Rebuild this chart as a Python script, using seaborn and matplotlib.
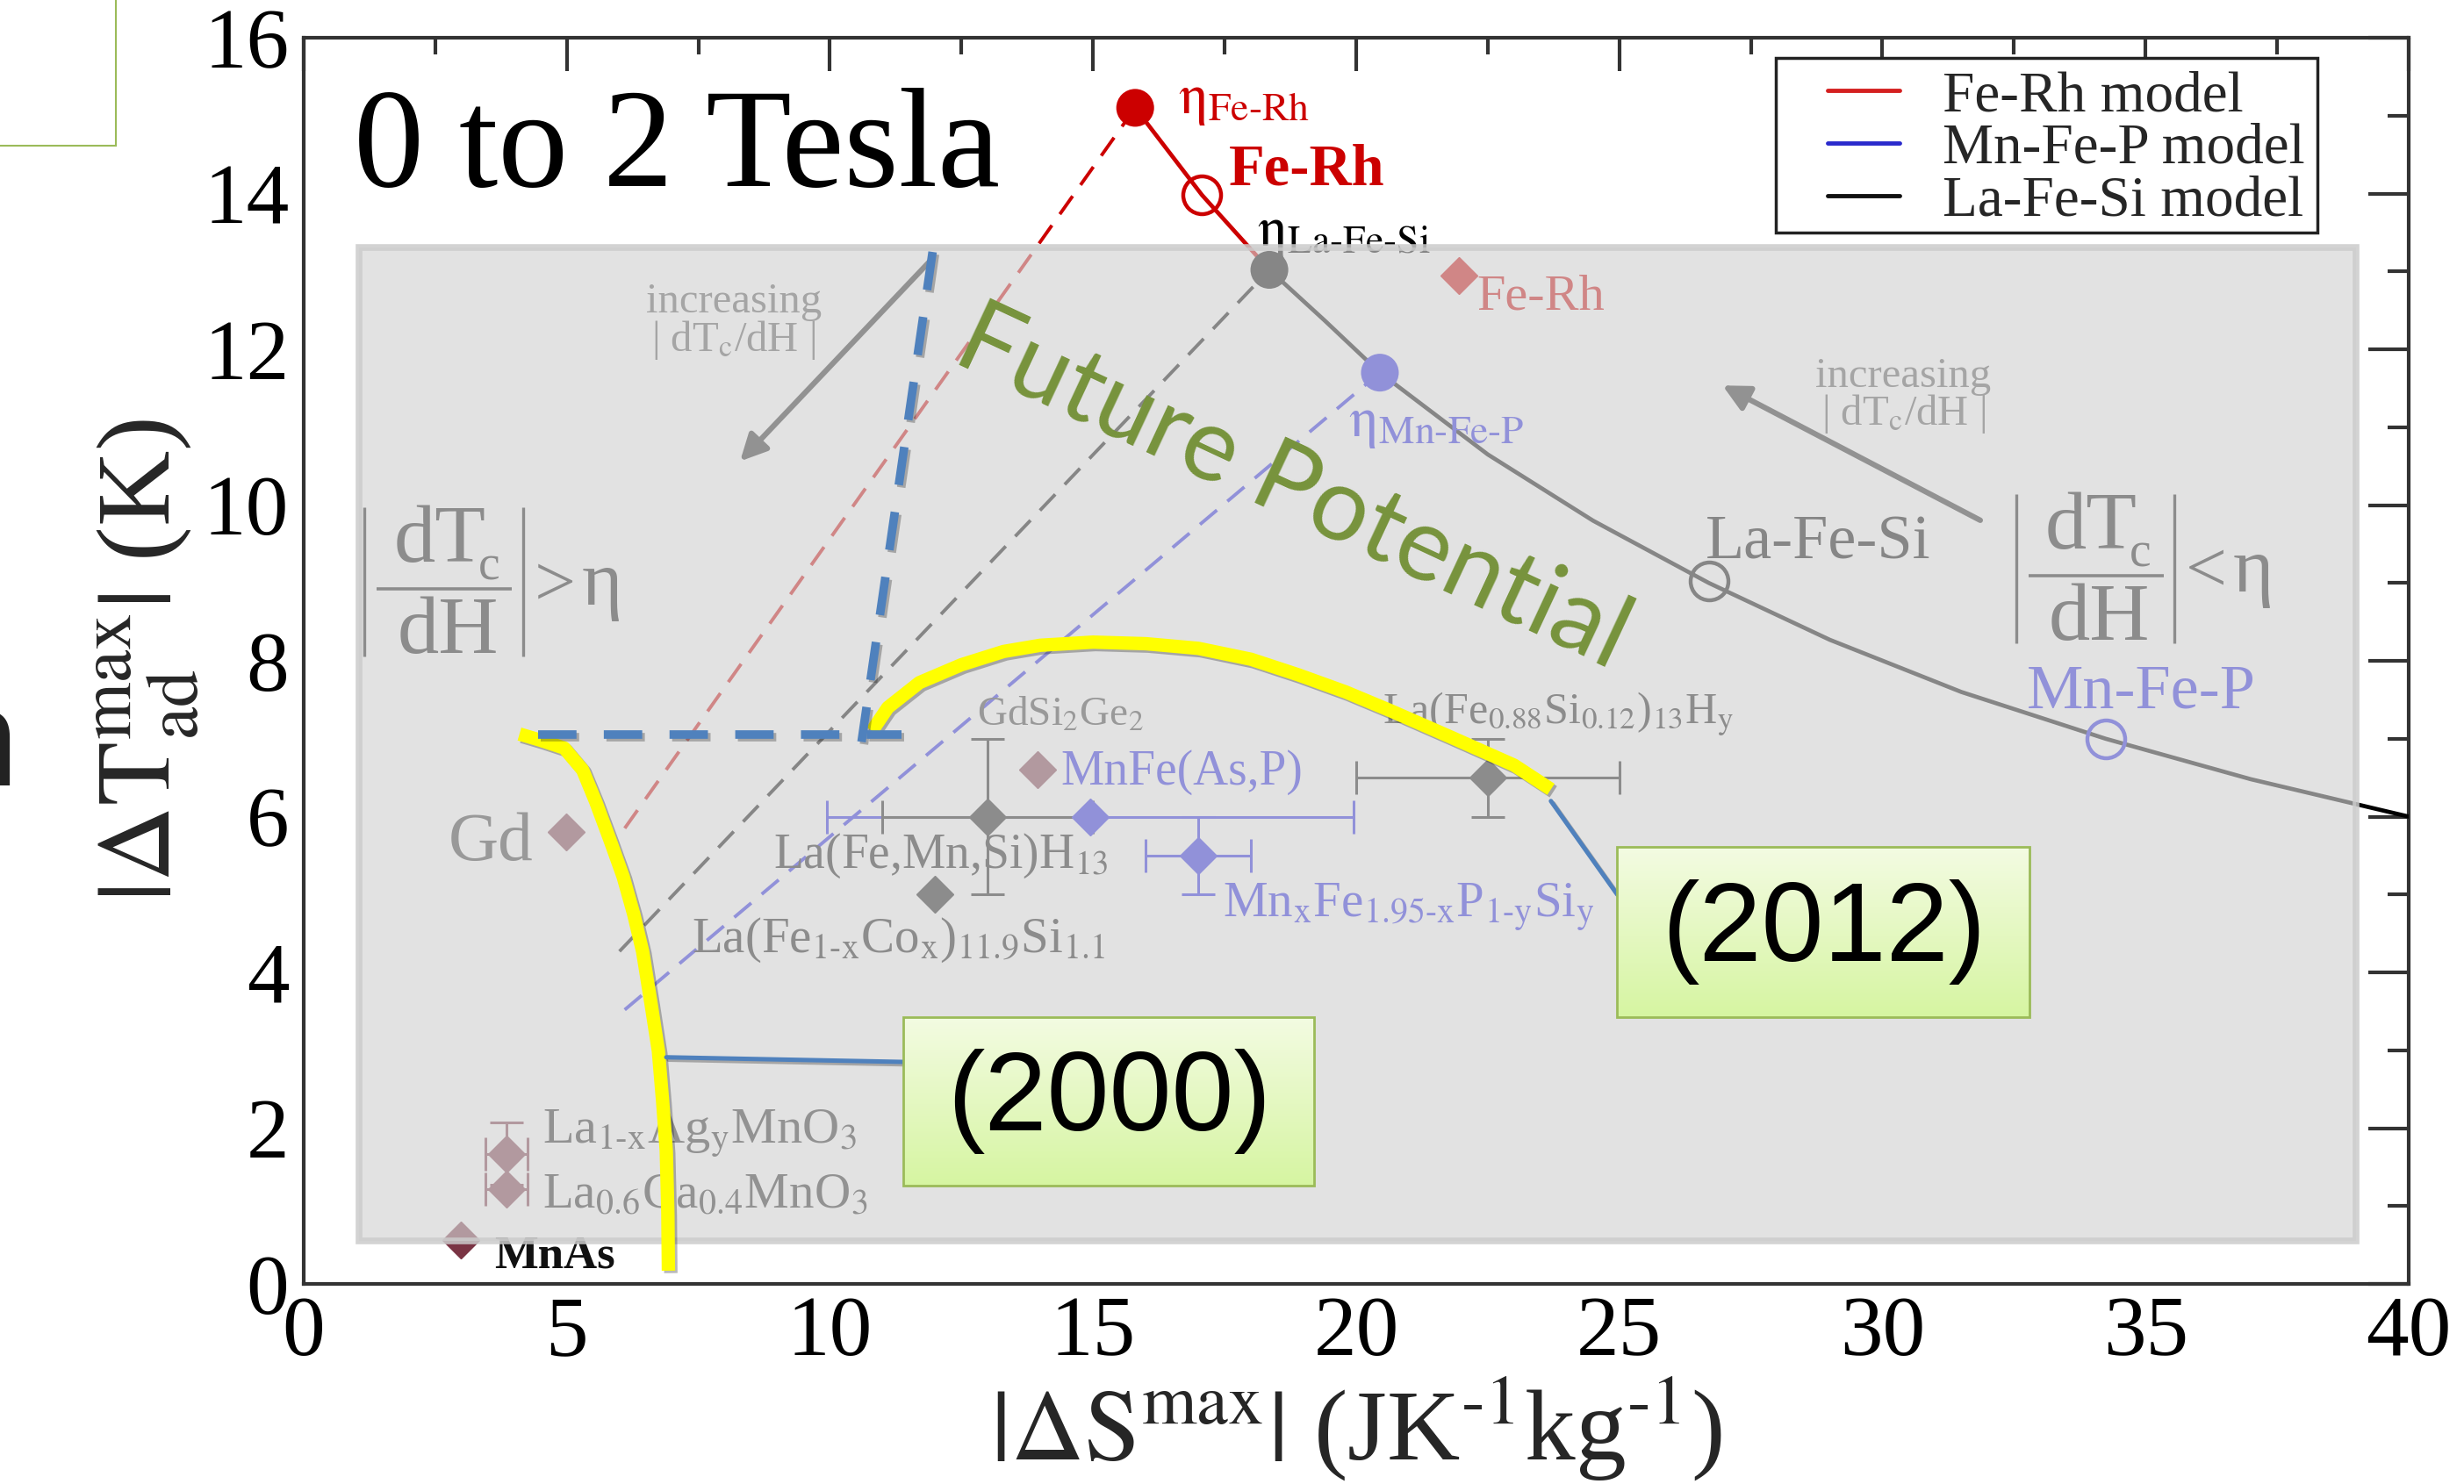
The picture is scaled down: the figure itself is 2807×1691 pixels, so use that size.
import matplotlib
matplotlib.use("Agg")
import numpy as np
import pandas as pd
import seaborn as sns
import matplotlib.pyplot as plt
from matplotlib.patches import Rectangle
from matplotlib.lines import Line2D
import matplotlib.patheffects as pe

# ---------------- data ----------------
x_major = [0, 5, 10, 15, 20, 25, 30, 35, 40]
y_major = [0, 2, 4, 6, 8, 10, 12, 14, 16]

# dashed model rays up to each eta point
ray_fe_rh_x = [6.1, 15.8]
ray_fe_rh_y = [5.85, 15.1]
ray_la_fe_si_x = [6.0, 18.35]
ray_la_fe_si_y = [4.27, 13.02]
ray_mn_fe_p_x = [6.1, 20.45]
ray_mn_fe_p_y = [3.52, 11.7]

# solid limiting curve
limit_red_x = [15.8, 17.07, 18.35]
limit_red_y = [15.1, 13.98, 13.02]
limit_black_x = [18.35, 19.4, 20.45, 22.5, 24.5, 26.7, 29.0, 31.5, 34.24, 37.0, 40.0]
limit_black_y = [13.02, 12.37, 11.7, 10.65, 9.8, 9.0, 8.27, 7.6, 7.0, 6.48, 6.0]

# model points
eta_model = ["Fe-Rh", "La-Fe-Si", "Mn-Fe-P"]
eta_x = [15.8, 18.35, 20.45]
eta_y = [15.1, 13.02, 11.7]
open_model = ["Fe-Rh", "La-Fe-Si", "Mn-Fe-P"]
open_x = [17.07, 26.7, 34.24]
open_y = [13.98, 9.03, 7.0]

# measured materials
mat_name = ["Fe-Rh", "Gd", "GdSi2Ge2", "MnFe(As,P)", "La(Fe,Mn,Si)H13",
            "MnxFe1.95-xP1-ySiy", "La(Fe1-xCox)11.9Si1.1", "La(Fe0.88Si0.12)13Hy",
            "La1-xAgyMnO3", "La0.6Ca0.4MnO3", "MnAs"]
mat_x = [21.95, 4.98, 13.94, 14.95, 13.0, 17.0, 12.0, 22.5, 3.85, 3.85, 2.98]
mat_y = [12.95, 5.8, 6.6, 6.0, 6.0, 5.5, 5.0, 6.5, 1.67, 1.22, 0.56]
mat_xerr = [0, 0, 0, 5.0, 2.0, 1.0, 0, 2.5, 0.4, 0.4, 0]
mat_yerr = [0, 0, 0, 0, 1.0, 0.5, 0, 0.5, 0.4, 0, 0]
mat_group = ["red", "maroon", "maroon", "blue", "black", "blue", "black", "black",
             "maroon", "maroon", "maroon"]

# annotation outlines
era2000_x = [4.1, 4.5, 4.95, 5.3, 5.55, 5.82, 6.07, 6.27, 6.44, 6.6, 6.74, 6.82, 6.89, 6.92, 6.93]
era2000_y = [7.06, 6.98, 6.88, 6.6, 6.19, 5.7, 5.23, 4.75, 4.27, 3.6, 2.99, 2.35, 1.71, 0.9, 0.17]
era2012_x = [10.8, 11.1, 11.7, 12.5, 13.3, 14.0, 15.0, 16.0, 17.0, 18.0, 18.9, 19.8, 20.65, 21.8, 23.0, 23.7]
era2012_y = [7.1, 7.4, 7.72, 7.95, 8.12, 8.2, 8.24, 8.22, 8.16, 8.02, 7.82, 7.6, 7.36, 7.02, 6.66, 6.35]
bound_v_x = [11.95, 10.6]
bound_v_y = [13.25, 6.96]
bound_h_x = [4.45, 11.36]
bound_h_y = [7.05, 7.05]

# ---------------- style ----------------
sns.set_theme(style="white")
plt.rcParams["font.family"] = ["Liberation Serif", "DejaVu Serif"]
plt.rcParams["mathtext.fontset"] = "stix"
plt.rcParams["mathtext.default"] = "rm"

RED = "#cc0000"
BLUE = "#1f1fe6"
BLACK = "#000000"
MAROON = "#7a3444"
group_color = {"red": RED, "blue": BLUE, "black": "#111111", "maroon": MAROON}
model_color = {"Fe-Rh": RED, "La-Fe-Si": BLACK, "Mn-Fe-P": BLUE}

fig = plt.figure(figsize=(28.07, 16.91), dpi=100)
ax = fig.add_axes([0.12326, 0.13483, 0.85429, 0.83974])
ax.set_facecolor("white")

# dashed rays
for xs, ys, c in [(ray_fe_rh_x, ray_fe_rh_y, RED),
                  (ray_la_fe_si_x, ray_la_fe_si_y, BLACK),
                  (ray_mn_fe_p_x, ray_mn_fe_p_y, BLUE)]:
    sns.lineplot(x=xs, y=ys, ax=ax, color=c, lw=2.8, estimator=None, sort=False, zorder=3)
    ax.lines[-1].set_dashes((6.5, 4))

# solid limit curve
sns.lineplot(x=limit_red_x, y=limit_red_y, ax=ax, color=RED, lw=3.4, estimator=None, sort=False, zorder=3)
sns.lineplot(x=limit_black_x, y=limit_black_y, ax=ax, color=BLACK, lw=3.4, estimator=None, sort=False, zorder=3)

# eta (filled) and model (open) points
eta_df = pd.DataFrame({"x": eta_x, "y": eta_y, "model": eta_model})
sns.scatterplot(data=eta_df, x="x", y="y", hue="model", palette=model_color, s=31 ** 2,
                linewidth=0, legend=False, ax=ax, zorder=5)
for xx, yy, m in zip(open_x, open_y, open_model):
    ax.plot(xx, yy, "o", ms=31, mfc="none", mec=model_color[m], mew=3.2, zorder=5)

# materials with error bars
for n, xx, yy, xe, ye, g in zip(mat_name, mat_x, mat_y, mat_xerr, mat_yerr, mat_group):
    c = group_color[g]
    ax.errorbar(xx, yy, xerr=xe if xe else None, yerr=ye if ye else None, fmt="D", ms=21,
                color=c, mec=c, ecolor=c, elinewidth=2.2, capsize=14, capthick=2.2, zorder=4)

# arrows
ax.annotate("", xy=(8.26, 10.54), xytext=(11.94, 13.16),
            arrowprops=dict(arrowstyle="-|>", color="#222222", lw=4.5, mutation_scale=45), zorder=5)
ax.annotate("", xy=(26.92, 11.55), xytext=(31.9, 9.79),
            arrowprops=dict(arrowstyle="-|>", color="#222222", lw=4.5, mutation_scale=45), zorder=5)

# labels
T = dict(zorder=5, ha="left", va="center")
ax.text(16.62, 15.19, r"$\eta_{\text{Fe-Rh}}$", fontsize=47, color=RED, **T)
ax.text(17.58, 14.3, "Fe-Rh", fontsize=48, color=RED, fontweight="bold", **T)
ax.text(18.11, 13.49, r"$\eta_{\text{La-Fe-Si}}$", fontsize=47, color=BLACK, **T)
ax.text(22.3, 12.67, "Fe-Rh", fontsize=42, color=RED, **T)
ax.text(19.85, 11.04, r"$\eta_{\text{Mn-Fe-P}}$", fontsize=47, color=BLUE, **T)
ax.text(26.63, 9.51, "La-Fe-Si", fontsize=52, color=BLACK, **T)
ax.text(32.75, 7.59, "Mn-Fe-P", fontsize=52, color=BLUE, **T)
ax.text(2.74, 5.65, "Gd", fontsize=57, color="#333333", **T)
ax.text(12.8, 7.31, r"GdSi$_2$Ge$_2$", fontsize=34, color="#333333", **T)
ax.text(14.38, 6.57, "MnFe(As,P)", fontsize=40, color=BLUE, **T)
ax.text(8.92, 5.5, r"La(Fe,Mn,Si)H$_{13}$", fontsize=40, color="#111111", **T)
ax.text(7.37, 4.41, r"La(Fe$_{\text{1-x}}$Co$_x$)$_{11.9}$Si$_{1.1}$", fontsize=41, color="#111111", **T)
ax.text(17.46, 4.83, r"Mn$_x$Fe$_{\text{1.95-x}}$P$_{\text{1-y}}$Si$_y$", fontsize=41, color=BLUE, **T)
ax.text(20.5, 7.31, r"La(Fe$_{0.88}$Si$_{0.12}$)$_{13}$H$_y$", fontsize=36, color="#111111", **T)
ax.text(4.53, 1.93, r"La$_{\text{1-x}}$Ag$_y$MnO$_3$", fontsize=42, color="#222222", **T)
ax.text(4.53, 1.14, r"La$_{0.6}$Ca$_{0.4}$MnO$_3$", fontsize=41, color="#222222", **T)
ax.text(3.63, 0.35, "MnAs", fontsize=38, color="#111111", fontweight="bold", **T)

ax.text(8.17, 12.35, "increasing\n| dT$_c$/dH |", fontsize=35, color="#555555",
        ha="center", va="center", linespacing=0.9, zorder=5)
ax.text(30.4, 11.4, "increasing\n| dT$_c$/dH |", fontsize=35, color="#555555",
        ha="center", va="center", linespacing=0.9, zorder=5)


def rate_condition(dx, dy, sign):
    """|dTc/dH| compared with eta, built from text pieces and thin rules."""
    k = dict(color="#111111", zorder=5)
    ax.plot([1.156 + dx, 1.156 + dx], [8.06 + dy, 9.97 + dy], lw=2.4, solid_capstyle="butt", **k)
    ax.plot([4.17 + dx, 4.17 + dx], [8.06 + dy, 9.97 + dy], lw=2.4, solid_capstyle="butt", **k)
    ax.plot([1.39 + dx, 3.96 + dx], [8.92 + dy, 8.92 + dy], lw=2.6, solid_capstyle="butt", **k)
    ax.text(2.59 + dx, 9.27 + dy, "dT", fontsize=68, ha="center", va="baseline", **k)
    ax.text(3.32 + dx, 9.04 + dy, "c", fontsize=40, ha="left", va="baseline", **k)
    ax.text(2.74 + dx, 8.1 + dy, "dH", fontsize=68, ha="center", va="baseline", **k)
    ax.text(4.38 + dx, 8.72 + dy, sign, fontsize=60, ha="left", va="baseline", **k)
    ax.text(5.28 + dx, 8.72 + dy, "\u03b7", fontsize=64, ha="left", va="baseline", **k)


rate_condition(0.0, 0.0, ">")
rate_condition(31.38, 0.17, "<")

ax.text(0.95, 14.1, "0 to 2 Tesla", fontsize=115, color="black", ha="left", va="baseline", zorder=5)

# legend with a plain square frame
ax.add_patch(Rectangle((0.6993, 0.8437), 0.9566 - 0.6993, 0.9838 - 0.8437, transform=ax.transAxes,
                       facecolor="white", edgecolor="#222222", lw=2.5, zorder=4.5))
handles = [Line2D([], [], color="#d42020", lw=3.5),
           Line2D([], [], color="#2a2acc", lw=3.5),
           Line2D([], [], color="#111111", lw=3.5)]
leg = ax.legend(handles, ["Fe-Rh model", "Mn-Fe-P model", "La-Fe-Si model"],
                loc="upper right", bbox_to_anchor=(0.9566, 0.9838), borderaxespad=0,
                fontsize=47, frameon=False, handlelength=1.25, handletextpad=0.75,
                labelspacing=0.0, borderpad=0.22)

# faded overlay panel
ax.add_patch(Rectangle((1.05, 0.55), 37.95, 12.76, facecolor=(0.827, 0.827, 0.827, 0.64),
                       edgecolor=(0.80, 0.80, 0.80, 0.85), lw=5.5, zorder=6))

# highlight outlines
shadow = [pe.SimpleLineShadow(offset=(2, -2), alpha=0.3, shadow_color="k"), pe.Normal()]
ax.plot(era2000_x, era2000_y, color="#ffff00", lw=11, solid_capstyle="butt", zorder=10, path_effects=shadow)
ax.plot(era2012_x, era2012_y, color="#ffff00", lw=11, solid_capstyle="butt", zorder=10, path_effects=shadow)
for xs, ys in [(bound_v_x, bound_v_y), (bound_h_x, bound_h_y)]:
    ax.plot(xs, ys, color="#4f81bd", lw=7, dashes=(4.5, 3.2), solid_capstyle="butt",
            zorder=11, path_effects=shadow)

# callout connectors
ax.plot([6.89, 11.4], [2.91, 2.85], color="#4f81bd", lw=3.6, zorder=11, path_effects=shadow)
ax.plot([23.7, 24.96], [6.2, 5.0], color="#4f81bd", lw=3.6, zorder=11, path_effects=shadow)

# callout boxes
top_c = np.array([0.953, 0.985, 0.885])
bot_c = np.array([0.840, 0.961, 0.635])
grad = np.linspace(0, 1, 64)[:, None, None] * (bot_c - top_c) + top_c
for (x0, x1, y0, y1, label) in [(11.4, 19.2, 1.26, 3.43, "(2000)"),
                               (24.96, 32.8, 3.43, 5.61, "(2012)")]:
    ax.imshow(grad, extent=[x0, x1, y0, y1], aspect="auto", origin="upper",
              interpolation="bilinear", zorder=12)
    ax.add_patch(Rectangle((x0, y0), x1 - x0, y1 - y0, fill=False, edgecolor="#9bbb59",
                           lw=2, zorder=13))
    ax.text((x0 + x1) / 2, (y0 + y1) / 2, label, fontsize=92, family="Liberation Sans",
            color="black", ha="center", va="center", zorder=14)

ax.text(18.8, 10.2, "Future Potential", fontsize=84, family="Lato", color="#77933c",
        rotation=-25, rotation_mode="anchor", ha="center", va="center", zorder=15)

# axes styling
ax.set_xlim(0, 40)
ax.set_ylim(0, 16)
ax.set_aspect("auto")
ax.set_xticks(x_major)
ax.set_yticks(y_major)
ax.set_xticks(np.arange(2.5, 40, 5), minor=True)
ax.set_yticks(np.arange(1, 16, 2), minor=True)
ax.tick_params(axis="both", which="both", direction="in", top=True, right=True,
               color="#333333", width=3, labelsize=70, labelcolor="black")
ax.tick_params(axis="x", which="major", length=27, pad=10)
ax.tick_params(axis="x", which="minor", length=14)
ax.tick_params(axis="y", which="major", length=33, pad=12)
ax.tick_params(axis="y", which="minor", length=17)
for s in ax.spines.values():
    s.set_color("#333333")
    s.set_linewidth(3)
ax.set_xlabel(r"$|\Delta S^{max}|$ (JK$^{\text{-1}}$kg$^{\text{-1}}$)", fontsize=83, labelpad=0)
ax.set_ylabel(r"$|\Delta T_{ad}^{max}|$ (K)", fontsize=86, labelpad=2)

# page decorations around the chart
fig.add_artist(Rectangle((-0.01, 1 - 166 / 1691), 0.01 + 132 / 2807, 0.2,
                         transform=fig.transFigure, fill=False, edgecolor="#9bbb59", lw=1.5))
fig.text(24 / 2807, 1 - 895 / 1691, "n", fontsize=114, family="Open Sans", color="#222222",
         ha="right", va="baseline")

fig.savefig("out.png", dpi=100)
